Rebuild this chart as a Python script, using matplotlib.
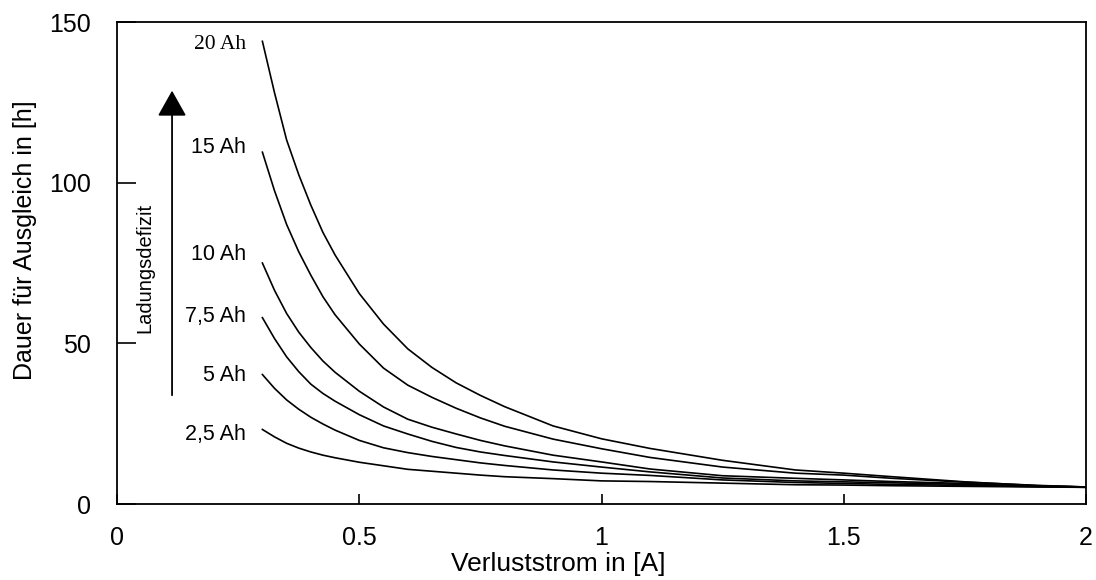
import numpy as np
import matplotlib
matplotlib.use("Agg")
import matplotlib.pyplot as plt

plt.rcParams['font.family'] = ['Liberation Sans', 'DejaVu Sans']

# Verluststrom in A (x positions where the curves were read)
strom = [0.30, 0.325, 0.35, 0.375, 0.40, 0.425, 0.45, 0.50, 0.55, 0.60,
         0.65, 0.70, 0.75, 0.80, 0.90, 1.00, 1.10, 1.25, 1.40, 1.50,
         1.60, 1.75, 1.90, 2.00]

# Dauer fuer Ausgleich in h, one list per Ladungsdefizit
dauer_20 = [144.0, 128.0, 113.3, 102.5, 93.0, 84.5, 77.5, 65.5, 56.0, 48.3,
            42.5, 37.7, 33.8, 30.3, 24.3, 20.3, 17.3, 13.6, 10.6, 9.6,
            8.5, 6.9, 5.7, 5.3]
dauer_15 = [109.5, 97.5, 87.0, 78.5, 71.2, 64.5, 58.9, 49.8, 42.3, 37.0,
            33.2, 29.8, 26.8, 24.2, 20.2, 17.2, 14.5, 11.5, 9.6, 9.0,
            8.0, 6.8, 5.8, 5.3]
dauer_10 = [75.0, 66.5, 59.3, 53.5, 48.7, 44.5, 41.0, 35.1, 30.2, 26.4,
            23.9, 21.8, 19.8, 18.1, 15.2, 13.1, 10.9, 8.8, 8.0, 7.5,
            7.0, 6.4, 5.6, 5.3]
dauer_75 = [58.0, 51.5, 45.8, 41.2, 37.3, 34.4, 32.0, 27.8, 24.3, 21.8,
            19.5, 17.6, 16.2, 15.1, 13.1, 11.5, 10.0, 8.1, 7.2, 6.9,
            6.6, 6.1, 5.5, 5.3]
dauer_5 = [40.3, 36.0, 32.4, 29.5, 27.0, 24.9, 23.0, 19.8, 17.5, 16.0,
           14.8, 13.8, 12.8, 12.0, 10.6, 9.6, 8.9, 7.5, 6.7, 6.4,
           6.1, 5.8, 5.4, 5.2]
dauer_25 = [23.2, 20.9, 18.9, 17.4, 16.2, 15.2, 14.4, 13.0, 11.9, 10.8,
            10.2, 9.6, 9.0, 8.5, 7.9, 7.2, 7.0, 6.5, 6.0, 5.9,
            5.7, 5.5, 5.3, 5.2]

kurven = [dauer_20, dauer_15, dauer_10, dauer_75, dauer_5, dauer_25]
labels = ["20 Ah", "15 Ah", "10 Ah", "7,5 Ah", "5 Ah", "2,5 Ah"]
label_y = [142.9, 110.8, 77.5, 58.5, 39.9, 21.5]

fig = plt.figure(figsize=(10.96, 5.80), dpi=100)
ax = fig.add_axes([0.1068, 0.131, 0.8841, 0.831])

for y in kurven:
    ax.plot(strom, y, color='black', lw=1.2)

for lab, ly in zip(labels, label_y):
    # the top label is set in a serif face in the original
    fam = ['Liberation Serif'] if lab == "20 Ah" else ['Liberation Sans']
    ax.text(0.266, ly, lab, ha='right', va='center', fontsize=15.5, family=fam)

# arrow for increasing charge deficit
ax.annotate("", xy=(0.1135, 129.5), xytext=(0.1135, 33),
            arrowprops=dict(arrowstyle='-|>,head_length=0.8,head_width=0.45',
                            mutation_scale=20, color='black', lw=1.3))
ax.text(0.058, 73.5, "Ladungsdefizit", rotation=90, ha='center', va='center',
        fontsize=14.5)

ax.set_xlim(0, 2)
ax.set_ylim(0, 150)
ax.set_xticks([0, 0.5, 1, 1.5, 2])
ax.set_xticklabels(["0", "0.5", "1", "1.5", "2"])
ax.set_yticks([0, 50, 100, 150])
ax.tick_params(axis='x', direction='in', length=7, width=1.2, pad=16,
               labelsize=18, top=False)
ax.tick_params(axis='y', direction='in', length=14, width=1.2, pad=19,
               labelsize=18, right=False)
for s in ax.spines.values():
    s.set_linewidth(1.3)

ax.set_xlabel("Verluststrom in [A]", fontsize=19)
ax.xaxis.set_label_coords(0.455, -0.1)
ax.set_ylabel("Dauer für Ausgleich in [h]", fontsize=18)
ax.yaxis.set_label_coords(-0.083, 0.548)

fig.savefig("out.png", dpi=100)
